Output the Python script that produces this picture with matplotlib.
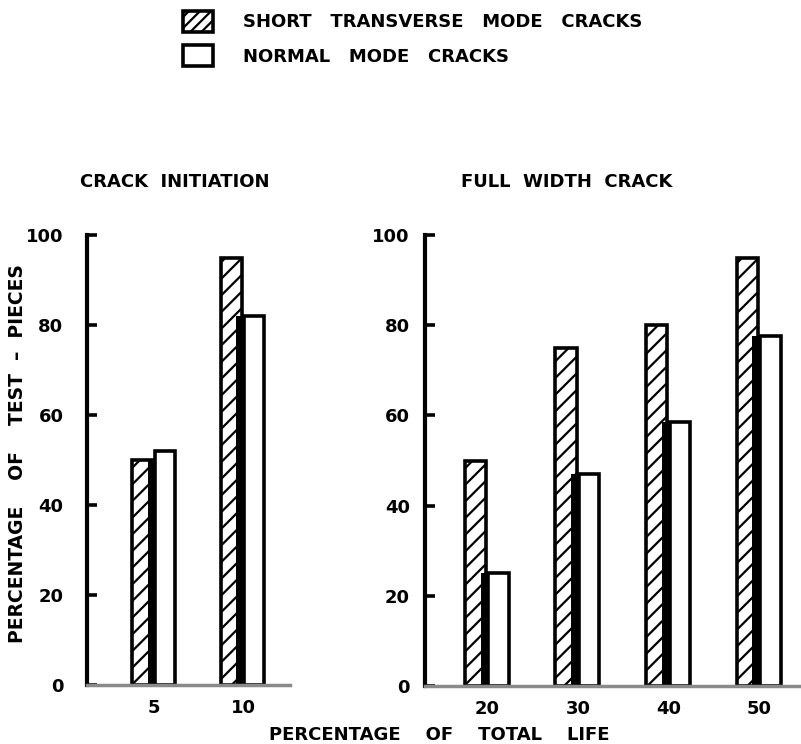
import numpy as np
import matplotlib
matplotlib.use("Agg")
import matplotlib.pyplot as plt
from matplotlib.patches import Patch

# data
left_cats = ["5", "10"]
left_short = [50, 95]
left_normal = [52, 82]

right_cats = ["20", "30", "40", "50"]
right_short = [50, 75, 80, 95]
right_normal = [25, 47, 58.5, 77.5]

y_ticks = [0, 20, 40, 60, 80, 100]

plt.rcParams['font.family'] = ['DejaVu Sans']
plt.rcParams['font.weight'] = 'bold'
plt.rcParams['hatch.linewidth'] = 1.6
FS = 13

W, H = 801, 744
fig = plt.figure(figsize=(W / 100, H / 100), dpi=100)


def fx(px):
    return px / W


def fy(py):
    return 1 - py / H


def draw_panel(ax, cats, short, normal, pad):
    pos = np.arange(len(cats))
    short = np.array(short)
    normal = np.array(normal)
    ax.bar(pos - 0.25, short, width=0.235, align='edge', color='white',
           edgecolor='black', hatch='//', linewidth=2.6, zorder=2)
    # dark shadow strip between the pair of bars
    ax.bar(pos - 0.075, np.minimum(short, normal), width=0.1, align='edge',
           color='black', linewidth=0, zorder=3)
    ax.bar(pos + 0.01, normal, width=0.225, align='edge', color='white',
           edgecolor='black', linewidth=2.6, zorder=4)
    ax.set_ylim(0, 100)
    ax.set_yticks(y_ticks)
    ax.set_yticklabels([str(t) for t in y_ticks], fontsize=FS, fontweight='bold')
    ax.set_xticks(pos)
    ax.set_xticklabels(cats, fontsize=FS, fontweight='bold')
    ax.tick_params(axis='y', direction='in', length=7, width=2.6, pad=pad)
    ax.tick_params(axis='x', length=0, pad=10)
    for s in ['top', 'right']:
        ax.spines[s].set_visible(False)
    ax.spines['left'].set_linewidth(3)
    ax.spines['bottom'].set_linewidth(2.5)
    ax.spines['bottom'].set_color('#8a8a8a')
    ax.spines['bottom'].set_zorder(5)


# left panel: axis 87..290 px, y 235..685 px
ax1 = fig.add_axes([fx(87), fy(685), fx(290) - fx(87), fy(235) - fy(685)])
draw_panel(ax1, left_cats, left_short, left_normal, pad=17)
ax1.set_xlim(-0.76, 1.53)

# right panel: axis 425..800 px
ax2 = fig.add_axes([fx(425), fy(686), fx(800) - fx(425), fy(235) - fy(686)])
draw_panel(ax2, right_cats, right_short, right_normal, pad=11)
ax2.set_xlim(-0.69, 3.45)

fig.text(fx(175), fy(182), "CRACK  INITIATION", fontsize=FS, fontweight='bold',
         ha='center', va='center')
fig.text(fx(567), fy(182), "FULL  WIDTH  CRACK", fontsize=FS, fontweight='bold',
         ha='center', va='center')
fig.text(fx(439), fy(735), "PERCENTAGE    OF    TOTAL    LIFE", fontsize=FS,
         fontweight='bold', ha='center', va='center')
fig.text(fx(18), fy(454), "PERCENTAGE    OF    TEST  –  PIECES", fontsize=FS + 0.5,
         fontweight='bold', ha='center', va='center', rotation=90)

handles = [
    Patch(facecolor='white', edgecolor='black', hatch='///', linewidth=2.6),
    Patch(facecolor='white', edgecolor='black', linewidth=2.6),
]
labels = ["SHORT   TRANSVERSE   MODE   CRACKS", "NORMAL   MODE   CRACKS"]
fig.legend(handles, labels, loc='upper left', bbox_to_anchor=(fx(183), fy(11)),
           frameon=False, borderpad=0, borderaxespad=0,
           handlelength=1.65, handleheight=1.4, handletextpad=1.7,
           labelspacing=0.75, prop={'weight': 'bold', 'size': FS})

fig.savefig("out.png", dpi=100)
